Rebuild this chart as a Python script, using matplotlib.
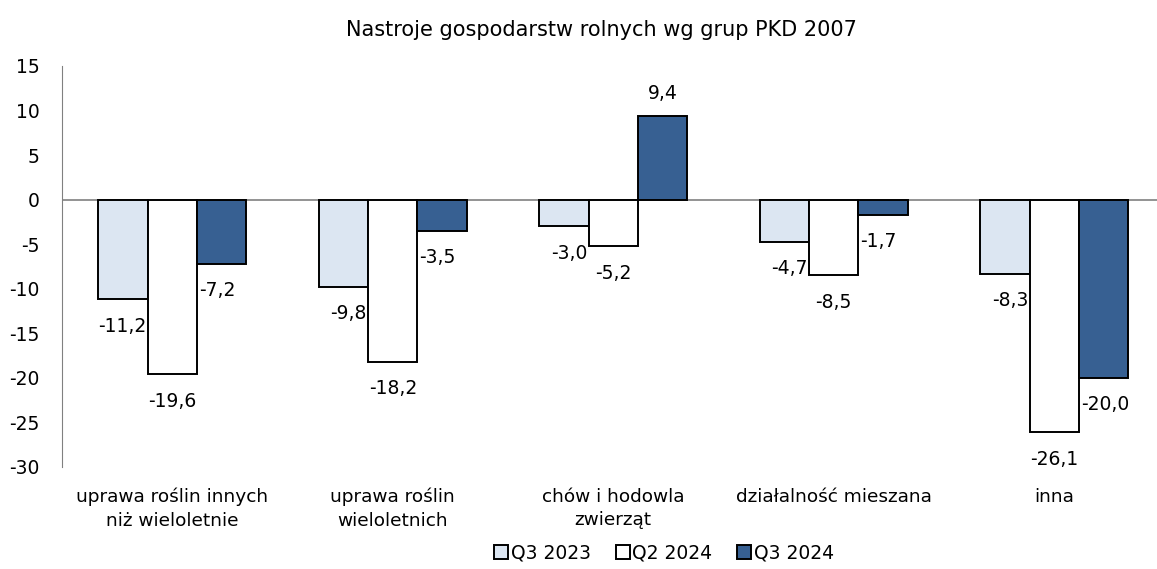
import matplotlib.pyplot as plt
import numpy as np

# dane
kategorie = ['uprawa roślin innych\nniż wieloletnie', 'uprawa roślin\nwieloletnich',
             'chów i hodowla\nzwierząt', 'działalność mieszana', 'inna']
serie = ['Q3 2023', 'Q2 2024', 'Q3 2024']
q3_2023 = [-11.2, -9.8, -3.0, -4.7, -8.3]
q2_2024 = [-19.6, -18.2, -5.2, -8.5, -26.1]
q3_2024 = [-7.2, -3.5, 9.4, -1.7, -20.0]
kolory = ['#dce6f2', '#ffffff', '#376092']

plt.rcParams['font.family'] = ['DejaVu Sans']
plt.rcParams['axes.unicode_minus'] = False

fig = plt.figure(figsize=(11.57, 5.69), dpi=100)
ax = fig.add_axes([62/1157, 102/569, 1095/1157, 401/569])

x = np.arange(len(kategorie))
w = 0.2236
wartosci = [q3_2023, q2_2024, q3_2024]
ha_lista = ['right', 'center', 'left']
for i, (vals, kol, nazwa) in enumerate(zip(wartosci, kolory, serie)):
    pos = x + (i - 1) * w
    ax.bar(pos, vals, w, color=kol, edgecolor='black', linewidth=1.4,
           label=nazwa, zorder=3)
    for p, v in zip(pos, vals):
        txt = f'{v:.1f}'.replace('.', ',')
        if v >= 0:
            ax.annotate(txt, (p, v), xytext=(0, 22), textcoords='offset pixels',
                        ha='center', va='center', fontsize=13.5)
        else:
            ha = ha_lista[i]
            dx = {'right': w / 2 - 0.005, 'center': 0, 'left': -w / 2 + 0.01}[ha]
            ax.annotate(txt, (p + dx, v), xytext=(0, -27), textcoords='offset pixels',
                        ha=ha, va='center', fontsize=13.5)

ax.set_xlim(-0.5, -0.5 + 1095 / 220.5)
ax.set_ylim(-30, 15)
ax.set_yticks(range(-30, 16, 5))
ax.tick_params(axis='y', length=0, pad=16, labelsize=13.5)
ax.tick_params(axis='x', length=0, pad=15, labelsize=13.3)
ax.set_xticks(x)
ax.set_xticklabels(kategorie, linespacing=1.4)

for s in ['top', 'right', 'bottom']:
    ax.spines[s].set_visible(False)
ax.spines['left'].set_color('#808080')
ax.axhline(0, color='#808080', linewidth=1.2, zorder=2)

fig.suptitle('Nastroje gospodarstw rolnych wg grup PKD 2007', x=0.52, y=0.965,
             fontsize=15)

fig.legend(loc='lower center', bbox_to_anchor=(0.574, -0.018), ncol=3, frameon=False,
           fontsize=13.5, handlelength=0.75, handleheight=0.75, handletextpad=0.15,
           columnspacing=1.3)

plt.savefig('out.png', dpi=100)
